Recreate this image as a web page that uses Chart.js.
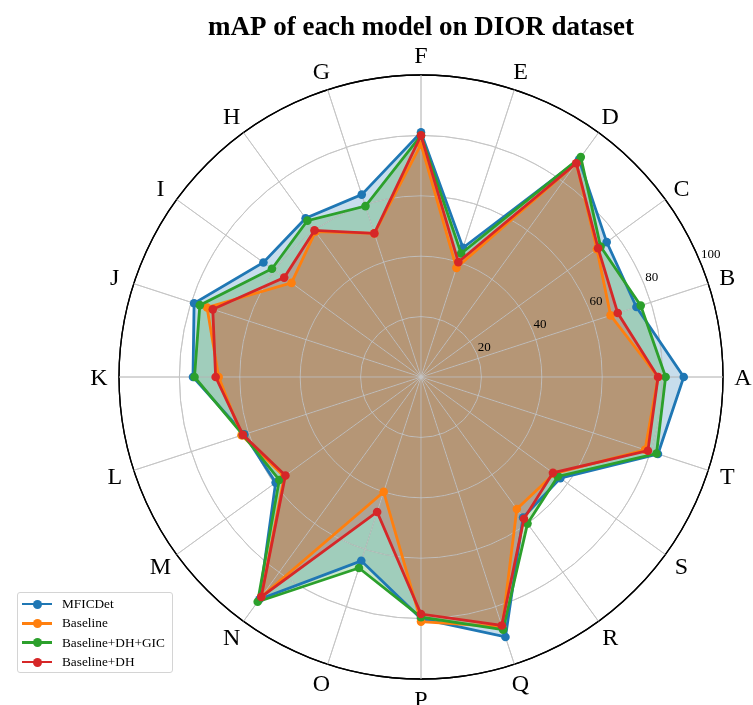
<!DOCTYPE html>
<html>
<head>
<meta charset="utf-8">
<script src="https://cdn.jsdelivr.net/npm/chart.js@4.4.1/dist/chart.umd.min.js"></script>
<style>
  body { margin: 0; background: #fff; }
  #wrap { position: relative; width: 753px; height: 705px; }
  #legend {
    position: absolute; left: 17px; top: 592px; width: 156px; height: 81px;
    box-sizing: border-box; border: 1px solid #d4d4d4; border-radius: 3px;
    background: rgba(255,255,255,0.85);
    font: 13.3px "Liberation Serif", "Times New Roman", serif; color: #000;
  }
  .row { position: absolute; left: 0; width: 100%; height: 16px; }
  .row .ln { position: absolute; left: 4px; top: 6.5px; width: 30px; height: 2.7px; }
  .row .dot { position: absolute; left: 14.5px; top: 3.5px; width: 9px; height: 9px; border-radius: 50%; }
  .row .tx { position: absolute; left: 44px; top: 0; line-height: 16px; white-space: nowrap; }
</style>
</head>
<body>
<div id="wrap">
  <canvas id="radar"></canvas>
  <div id="legend"></div>
</div>
<script>
// categories A..T (A sits at 0 deg, going counter-clockwise)
const categories = ['A','B','C','D','E','F','G','H','I','J','K','L','M','N','O','P','Q','R','S','T'];
const tickValues = [20, 40, 60, 80, 100];

const seriesNames = ['MFICDet', 'Baseline', 'Baseline+DH+GIC', 'Baseline+DH'];
const mficdet   = [87, 75, 76, 89, 45, 81, 63.5, 65, 64.5, 79, 75.5, 61.5, 59.5, 91, 64, 80, 90.5, 57.5, 57, 82.5];
const baseline  = [78.5, 66, 72, 87.5, 38, 77, 50, 59.5, 53, 74.5, 67, 62.5, 56, 90, 40, 81, 87, 54, 54.5, 78];
const dhGic     = [81, 76.5, 73.5, 90, 43, 80, 59.5, 64, 61, 77, 75, 62, 58, 92, 66.5, 79.5, 88, 60, 56, 82];
const dh        = [78.5, 68.5, 72.5, 87.5, 40, 80, 50, 60, 56, 72.5, 68, 62, 55.5, 90, 47, 78.5, 86.5, 58, 54, 79];
const colors = ['#1f77b4', '#ff7f0e', '#2ca02c', '#d62728'];

// Chart.js goes clockwise from the top, so start at F and walk backwards
const reorder = arr => arr.map((_, k) => arr[(25 - k) % 20]);

const fills = ['rgba(31,119,180,0.25)', 'rgba(255,127,14,0.25)', 'rgba(44,160,44,0.25)', 'rgba(214,39,40,0.25)'];
const allSeries = [mficdet, baseline, dhGic, dh];

const datasets = allSeries.map((vals, i) => ({
    label: seriesNames[i],
    data: reorder(vals),
    borderColor: colors[i],
    backgroundColor: fills[i],
    pointBackgroundColor: colors[i],
    pointBorderColor: colors[i],
    pointRadius: 4.3,
    pointBorderWidth: 0,
    borderWidth: 2.8,
    fill: true,
    order: 4 - i   // red drawn last, on top
}));

const serif = '"Liberation Serif", "Times New Roman", serif';

// matplotlib-like layering and text
const polarText = {
    id: 'polarText',
    beforeDatasetsDraw(chart) {
        // fills are already down (filler drawTime), put the grid over them
        chart.scales.r.drawGrid();
    },
    afterDatasetsDraw(chart) {
        const r = chart.scales.r;
        const ctx = chart.ctx;
        ctx.save();
        ctx.fillStyle = '#000';
        ctx.font = '13px ' + serif;
        ctx.textAlign = 'left';
        ctx.textBaseline = 'bottom';
        const a = 22.5 * Math.PI / 180;
        tickValues.forEach(v => {
            const d = r.getDistanceFromCenterForValue(v);
            ctx.fillText(String(v), r.xCenter + d * Math.cos(a) + 1, r.yCenter - d * Math.sin(a));
        });
        ctx.font = '24px ' + serif;
        ctx.textAlign = 'center';
        ctx.textBaseline = 'middle';
        chart.data.labels.forEach((lab, i) => {
            const p = r.getPointPosition(i, r.drawingArea + 20);
            ctx.fillText(lab, p.x, p.y + 1.5);
        });
        ctx.restore();
    }
};

new Chart(document.getElementById('radar'), {
    type: 'radar',
    data: { labels: reorder(categories), datasets: datasets },
    options: {
        responsive: true,
        maintainAspectRatio: false,
        animation: false,
        layout: { padding: { left: 119, right: 30, top: 0, bottom: 25.5 } },
        plugins: {
            legend: { display: false },
            tooltip: { enabled: false },
            filler: { drawTime: 'beforeDatasetsDraw' },
            title: {
                display: true,
                text: 'mAP of each model on DIOR dataset',
                color: '#000',
                font: { family: serif, size: 27, weight: 'bold' },
                padding: { top: 12, bottom: 31.1 }
            }
        },
        scales: {
            r: {
                min: 0,
                max: 100,
                ticks: { stepSize: 20, display: false },
                pointLabels: { display: false },
                grid: {
                    circular: true,
                    color: c => (c.tick && c.tick.value === 100) ? '#000' : '#c4c4c4',
                    lineWidth: c => (c.tick && c.tick.value === 100) ? 1.3 : 0.9
                },
                angleLines: { color: '#c4c4c4', lineWidth: 0.9 }
            }
        }
    },
    plugins: [polarText]
});

// legend box in the lower-left corner
const legend = document.getElementById('legend');
seriesNames.forEach((name, i) => {
    const row = document.createElement('div');
    row.className = 'row';
    row.style.top = (3 + i * 19.4) + 'px';
    row.innerHTML = '<div class="ln" style="background:' + colors[i] + '"></div>' +
        '<div class="dot" style="background:' + colors[i] + '"></div>' +
        '<div class="tx">' + name + '</div>';
    legend.appendChild(row);
});
</script>
</body>
</html>
